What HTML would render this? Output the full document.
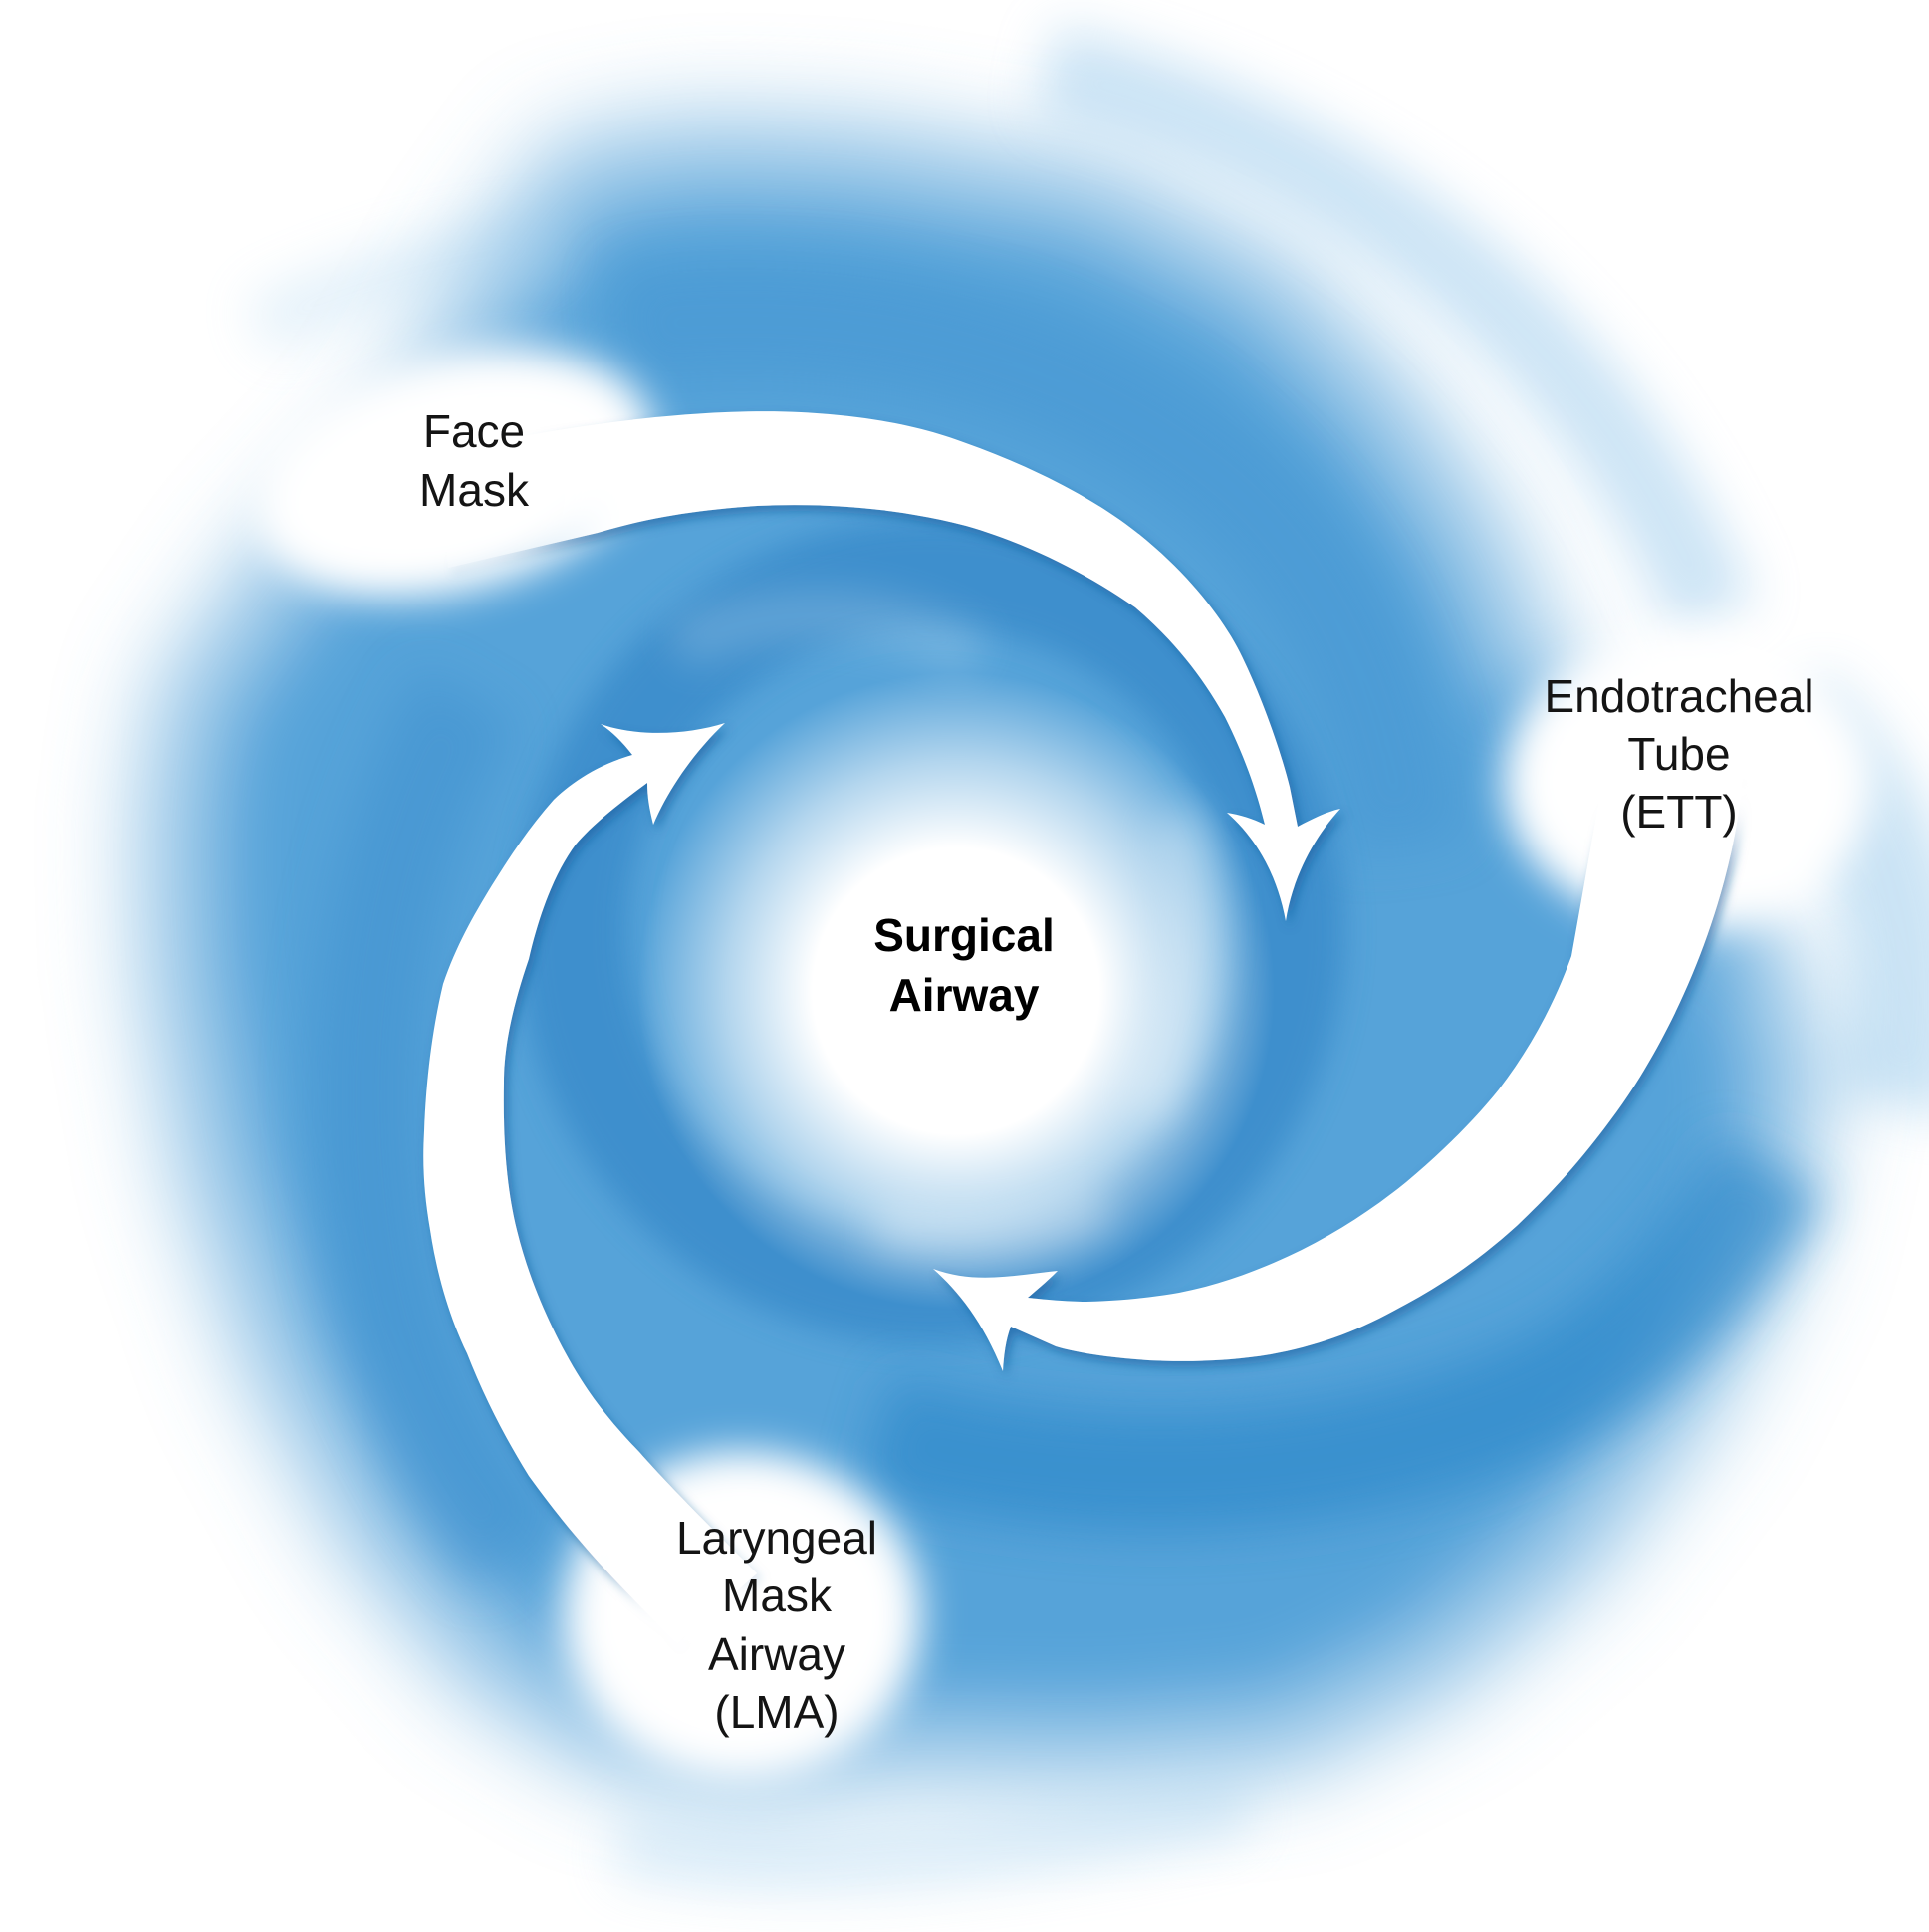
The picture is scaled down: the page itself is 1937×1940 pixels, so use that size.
<!DOCTYPE html>
<html>
<head>
<meta charset="utf-8">
<style>
  html, body { margin:0; padding:0; background:#ffffff; }
  body { width:1937px; height:1940px; overflow:hidden; }
  svg { display:block; }
  .lbl { font-family:"Liberation Sans", Arial, sans-serif; font-size:46px; fill:#141414; }
  .bold { font-weight:bold; fill:#000; }
</style>
</head>
<body>
<svg xmlns="http://www.w3.org/2000/svg" width="1937" height="1940" viewBox="0 0 1937 1940">
  <defs>
    <filter id="f45" filterUnits="userSpaceOnUse" x="-300" y="-300" width="2537" height="2540"><feGaussianBlur stdDeviation="45"/></filter>
    <filter id="f35" filterUnits="userSpaceOnUse" x="-300" y="-300" width="2537" height="2540"><feGaussianBlur stdDeviation="35"/></filter>
    <filter id="f25" filterUnits="userSpaceOnUse" x="-300" y="-300" width="2537" height="2540"><feGaussianBlur stdDeviation="25"/></filter>
    <filter id="f20" filterUnits="userSpaceOnUse" x="-300" y="-300" width="2537" height="2540"><feGaussianBlur stdDeviation="20"/></filter>
    <filter id="f15" filterUnits="userSpaceOnUse" x="-300" y="-300" width="2537" height="2540"><feGaussianBlur stdDeviation="15"/></filter>
    <filter id="sh" filterUnits="userSpaceOnUse" x="0" y="0" width="1937" height="1940">
      <feDropShadow dx="4" dy="6" stdDeviation="5" flood-color="#15599a" flood-opacity="0.55"/>
    </filter>
    <radialGradient id="cg" cx="960" cy="995" r="320" gradientUnits="userSpaceOnUse">
      <stop offset="0" stop-color="#ffffff" stop-opacity="1"/>
      <stop offset="0.45" stop-color="#ffffff" stop-opacity="1"/>
      <stop offset="0.72" stop-color="#ffffff" stop-opacity="0.55"/>
      <stop offset="1" stop-color="#ffffff" stop-opacity="0"/>
    </radialGradient>
    <mask id="am" maskUnits="userSpaceOnUse" x="0" y="0" width="1937" height="1940">
      <rect x="0" y="0" width="1937" height="1940" fill="#ffffff"/>
      <ellipse filter="url(#f25)" cx="445" cy="495" rx="125" ry="110" fill="#000000"/>
      <ellipse filter="url(#f20)" cx="1680" cy="795" rx="140" ry="60" fill="#000000"/>
      <ellipse filter="url(#f20)" cx="700" cy="1620" rx="85" ry="75" fill="#000000"/>
    </mask>
  </defs>

  <rect x="0" y="0" width="1937" height="1940" fill="#ffffff"/>

  <!-- base blue swirl mass -->
  <path filter="url(#f45)" fill="#56a3d9"
    d="M1720,920 L1800,960 L1840,1080 L1800,1260 L1720,1420 L1600,1580 L1460,1700 L1300,1780 L1100,1795 L900,1790 L750,1810 L600,1780 L470,1700 L350,1560 L250,1380 L180,1180 L145,980 L140,820 L160,690 L250,560 L380,420 L480,250 L560,140 L700,118 L865,125 L1112,165 L1297,262 L1420,392 L1510,525 L1575,680 L1620,820 Z"/>

  <!-- lighten outer parts of arms -->
  <path filter="url(#f35)" fill="none" stroke="#ffffff" stroke-width="170" opacity="0.35"
    d="M1800,960 L1840,1080 L1800,1260 L1720,1420 L1600,1580 L1460,1700 L1300,1780 L1100,1795 L900,1790 L750,1810 L600,1780 L470,1700 L350,1560 L250,1380 L180,1180 L145,980 L140,820 L160,690 L250,560 L380,420 L480,250 L560,140 L700,118 L865,125 L1112,165 L1297,262 L1420,392 L1510,525 L1575,680"/>

  <!-- outer faint streaks -->
  <path filter="url(#f25)" fill="none" stroke="#9ccbec" stroke-width="90" opacity="0.5" d="M1050,70 C1350,140 1600,330 1720,620"/>
  <path filter="url(#f25)" fill="none" stroke="#8cc3e8" stroke-width="120" opacity="0.45" d="M1790,720 C1900,820 1937,960 1900,1110"/>
  <path filter="url(#f25)" fill="none" stroke="#a9d3ef" stroke-width="70" opacity="0.35" d="M620,1850 C800,1885 1000,1865 1250,1810"/>
  <path filter="url(#f25)" fill="none" stroke="#a9d3ef" stroke-width="60" opacity="0.3" d="M260,330 C350,285 450,255 560,245"/>

  <!-- darker accents -->
  <path filter="url(#f25)" fill="none" stroke="#3f91cf" stroke-width="110" opacity="0.55"
    d="M470,700 C380,850 350,1050 380,1250 C400,1380 450,1480 520,1560"/>
  <path filter="url(#f25)" fill="none" stroke="#4495d1" stroke-width="120" opacity="0.5"
    d="M620,330 C850,300 1080,350 1250,500 C1340,590 1390,700 1410,850"/>
  <circle filter="url(#f15)" cx="935" cy="935" r="360" fill="none" stroke="#3587c8" stroke-width="110" opacity="0.7"/>
  <path filter="url(#f25)" fill="none" stroke="#2e89ca" stroke-width="120" opacity="0.7"
    d="M880,1440 C1100,1500 1350,1490 1550,1400 C1650,1350 1720,1270 1780,1170"/>

  <!-- center white -->
  <circle cx="960" cy="995" r="320" fill="url(#cg)"/>

  <!-- light streaks inside ring -->
  <path filter="url(#f20)" fill="none" stroke="#ffffff" stroke-width="50" opacity="0.18" d="M680,650 C780,600 900,610 980,660"/>
  <path filter="url(#f20)" fill="none" stroke="#ffffff" stroke-width="50" opacity="0.3" d="M1180,820 C1210,920 1200,1030 1150,1120"/>
  <path filter="url(#f20)" fill="none" stroke="#ffffff" stroke-width="45" opacity="0.3" d="M880,1230 C960,1250 1040,1240 1110,1210"/>

  <!-- white label gaps -->
  <ellipse filter="url(#f20)" cx="455" cy="475" rx="205" ry="118" transform="rotate(-15 455 475)" fill="#ffffff"/>
  <ellipse filter="url(#f20)" cx="1695" cy="785" rx="185" ry="145" fill="#ffffff"/>
  <ellipse filter="url(#f20)" cx="745" cy="1622" rx="180" ry="165" fill="#ffffff"/>

  <!-- arrows -->
  <g mask="url(#am)">
  <g filter="url(#sh)" fill="#ffffff">
    <!-- Arrow 1: Face Mask -> ETT (pointing down) -->
    <path d="M440,455 C600,420 720,410 804,414 C880,418 930,430 970,445 C1040,470 1110,505 1160,550 C1200,585 1230,625 1245,655 C1265,695 1285,750 1295,790 L1303,830
             C1318,822 1332,815 1346,812
             C1320,840 1298,880 1291,925
             C1283,880 1262,842 1232,816
             C1245,818 1258,822 1270,828
             C1262,795 1250,760 1230,720 C1205,675 1175,640 1140,610 C1090,575 1030,545 970,528 C900,510 830,505 760,508 C700,512 650,520 600,535 L450,570 Z"/>
    <!-- Arrow 2: ETT -> LMA (pointing left) -->
    <path d="M1750,780 C1740,900 1685,1035 1617,1125 C1580,1175 1550,1205 1524,1230 C1480,1270 1440,1295 1400,1316 C1360,1338 1320,1352 1276,1360 C1235,1367 1190,1368 1153,1366 C1110,1363 1080,1358 1060,1352 L1015,1332
             C1010,1345 1008,1360 1007,1377
             C987,1327 962,1296 937,1274
             C980,1290 1020,1280 1062,1276
             C1050,1288 1040,1296 1032,1303
             C1060,1306 1080,1307 1091,1307 C1125,1306 1155,1303 1184,1298 C1230,1289 1270,1273 1307,1255 C1345,1236 1380,1213 1412,1187 C1450,1155 1480,1125 1505,1094 C1535,1055 1560,1010 1578,960 L1610,780 Z"/>
    <!-- Arrow 3: LMA -> Face Mask (pointing up-right) -->
    <path d="M680,1650 C620,1590 580,1550 531,1482 C505,1440 485,1400 469,1359 C450,1320 438,1275 432,1235 C426,1200 424,1170 426,1136 C428,1080 435,1030 445,988 C458,950 475,920 494,889 C512,860 532,830 556,803 C575,785 600,768 635,758
             C625,745 615,735 603,727
             C640,740 690,738 728,726
             C700,752 672,790 656,828
             C652,812 650,800 650,786
             C620,808 595,828 578,848 C558,875 542,915 531,963 C515,1010 506,1050 506,1087 C505,1140 508,1190 519,1235 C530,1280 548,1322 568,1359 C590,1400 615,1430 642,1458 C670,1490 710,1530 760,1580 Z"/>
  </g>
  </g>

  <!-- labels -->
  <text class="lbl" x="476" y="449" text-anchor="middle">Face</text>
  <text class="lbl" x="476" y="508" text-anchor="middle">Mask</text>

  <text class="lbl" x="1686" y="715" text-anchor="middle">Endotracheal</text>
  <text class="lbl" x="1686" y="773" text-anchor="middle">Tube</text>
  <text class="lbl" x="1686" y="831" text-anchor="middle">(ETT)</text>

  <text class="lbl" x="780" y="1560" text-anchor="middle">Laryngeal</text>
  <text class="lbl" x="780" y="1618" text-anchor="middle">Mask</text>
  <text class="lbl" x="780" y="1677" text-anchor="middle">Airway</text>
  <text class="lbl" x="780" y="1735" text-anchor="middle">(LMA)</text>

  <text class="lbl bold" x="968" y="955" text-anchor="middle">Surgical</text>
  <text class="lbl bold" x="968" y="1015" text-anchor="middle">Airway</text>
</svg>
</body>
</html>
